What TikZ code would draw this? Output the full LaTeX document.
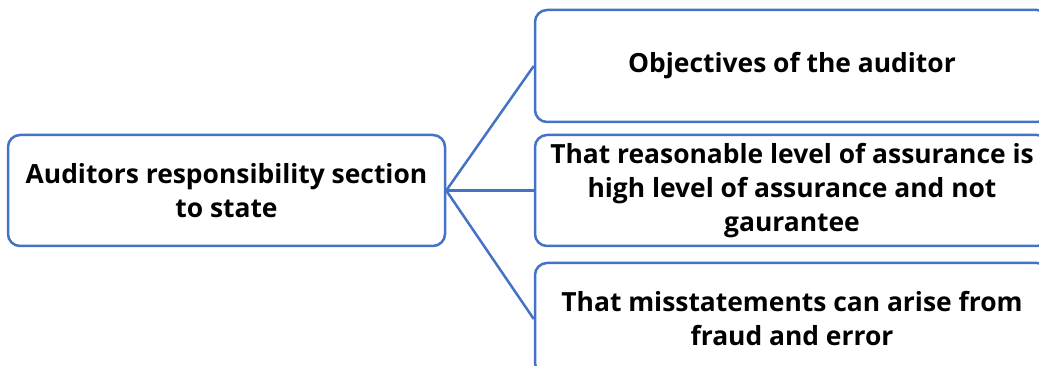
\documentclass[tikz,border=0pt]{standalone}
\usepackage{fontspec}
\setmainfont{Open Sans}
\definecolor{boxblue}{HTML}{4472C4}
\tikzset{
  box/.style={draw=boxblue, line width=2.5pt, rounded corners=12pt, fill=white,
    align=center, inner sep=0pt,
    font=\bfseries\fontsize{26.4}{34}\selectfont},
  link/.style={draw=boxblue, line width=2.5pt}
}
\begin{document}
\begin{tikzpicture}[x=1pt,y=-1pt]
\useasboundingbox (0,0) rectangle (1039,366);
\clip (0,0) rectangle (1039,366);
\node[box, minimum width=437pt, minimum height=111pt] (root) at (226.5,190.5)
  {Auditors responsibility section\\to state};
\node[box, minimum width=514pt, minimum height=112pt] (c1) at (792,66)
  {Objectives of the auditor};
\node[box, minimum width=514pt, minimum height=111pt] (c2) at (792,190.5)
  {That reasonable level of assurance is\\high level of assurance and not\\gaurantee};
\node[box, minimum width=514pt, minimum height=112pt] (c3) at (792,319)
  {That misstatements can arise from\\fraud and error};
\draw[link] (root.east) -- (c1.west);
\draw[link] (root.east) -- (c2.west);
\draw[link] (root.east) -- (c3.west);
\end{tikzpicture}
\end{document}
